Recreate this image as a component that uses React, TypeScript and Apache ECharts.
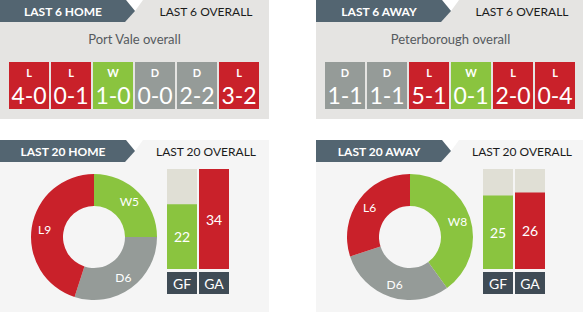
import React, { useEffect, useRef } from 'react';
import * as echarts from 'echarts';

const homeTeam = 'Port Vale';
const awayTeam = 'Peterborough';
const formSlots = ['1', '2', '3', '4', '5', '6'];
const homeFormResults = ['L', 'L', 'W', 'D', 'D', 'L'];
const homeFormScores = ['4-0', '0-1', '1-0', '0-0', '2-2', '3-2'];
const awayFormResults = ['D', 'D', 'L', 'W', 'L', 'L'];
const awayFormScores = ['1-1', '1-1', '5-1', '0-1', '2-0', '0-4'];
const outcomeNames = ['W', 'D', 'L'];
const homeLast20 = [5, 6, 9];
const awayLast20 = [8, 6, 6];
const goalCats = ['GF', 'GA'];
const homeGoals = [22, 34];
const awayGoals = [25, 26];
const goalsMax = 34;

const FONT = 'Lato, "Open Sans", sans-serif';
const COLORS: Record<string, string> = { W: '#8ac43f', D: '#959b98', L: '#c9212a' };
const DARK_TAB = '#536571';

export default function App() {
  const ref = useRef<HTMLDivElement>(null);
  useEffect(() => {
    if (!ref.current) return;
    const chart = echarts.init(ref.current, undefined, { renderer: 'svg' });

    const sides = [
      { x0: 0, tab6: 'LAST 6 HOME', tab20: 'LAST 20 HOME', team: homeTeam, res: homeFormResults, sc: homeFormScores, pie: homeLast20, goals: homeGoals },
      { x0: 316, tab6: 'LAST 6 AWAY', tab20: 'LAST 20 AWAY', team: awayTeam, res: awayFormResults, sc: awayFormScores, pie: awayLast20, goals: awayGoals },
    ];

    const graphic: any[] = [];
    const grid: any[] = [];
    const xAxis: any[] = [];
    const yAxis: any[] = [];
    const series: any[] = [];

    sides.forEach((s) => {
      const x0 = s.x0;
      graphic.push({ type: 'rect', z: -10, shape: { x: x0, y: 0, width: 269, height: 119 }, style: { fill: '#e5e4e2' } });
      graphic.push({ type: 'rect', z: -10, shape: { x: x0, y: 140, width: 269, height: 172 }, style: { fill: '#f5f5f5' } });
      [0, 140].forEach((ty, ti) => {
        graphic.push({ type: 'polygon', z: -5, shape: { points: [[x0 + 126, ty], [x0 + 143, ty], [x0 + 135, ty + 11]] }, style: { fill: '#ffffff' } });
        graphic.push({ type: 'polygon', z: -4, shape: { points: [[x0, ty], [x0 + 126, ty], [x0 + 135, ty + 11], [x0 + 125, ty + 22], [x0, ty + 22]] }, style: { fill: DARK_TAB } });
        graphic.push({ type: 'text', z: 5, x: x0 + 63, y: ty + 11, style: { text: ti === 0 ? s.tab6 : s.tab20, fill: '#ffffff', font: `bold 12px ${FONT}`, align: 'center', verticalAlign: 'middle' } });
        graphic.push({ type: 'text', z: 5, x: x0 + 206, y: ty + 11, style: { text: ti === 0 ? 'LAST 6 OVERALL' : 'LAST 20 OVERALL', fill: '#1b1b1b', font: `12px ${FONT}`, align: 'center', verticalAlign: 'middle' } });
      });
      graphic.push({ type: 'text', z: 5, x: x0 + 134.5, y: 39, style: { text: `${s.team} overall`, fill: '#555a5e', font: `13px ${FONT}`, align: 'center', verticalAlign: 'middle' } });

      // form grid
      const gForm = grid.length;
      grid.push({ left: x0 + 8, top: 62, width: 252, height: 47 });
      xAxis.push({ type: 'category', gridIndex: gForm, data: formSlots, show: false });
      yAxis.push({ type: 'value', gridIndex: gForm, min: 0, max: 1, show: false });
      series.push({
        type: 'bar', xAxisIndex: gForm, yAxisIndex: gForm, barWidth: 40,
        data: s.res.map((r, i) => ({ value: 1, itemStyle: { color: COLORS[r] }, label: { formatter: `{a|${r}}\n{b|${s.sc[i]}}` } })),
        label: {
          show: true, position: 'insideTop', distance: 1, color: '#fff',
          rich: {
            a: { fontSize: 11, fontWeight: 'bold', lineHeight: 18, color: '#fff', fontFamily: FONT, align: 'center' },
            b: { fontSize: 23, lineHeight: 28, color: '#fff', fontFamily: FONT, align: 'center' },
          },
        },
      });

      // last 20 pie
      series.push({
        type: 'pie', center: [x0 + 94, 237], radius: [31, 63], startAngle: 90, clockwise: true,
        label: { show: true, position: 'inside', formatter: '{b}{c}', color: '#fff', fontSize: 12, fontFamily: FONT, textBorderWidth: 0 },
        labelLine: { show: false },
        itemStyle: { borderWidth: 0 },
        data: outcomeNames.map((n, i) => ({ name: n, value: s.pie[i], itemStyle: { color: COLORS[n] } })),
      });

      // goals
      const gGoals = grid.length;
      grid.push({ left: x0 + 166, top: 169, width: 64, height: 100 });
      xAxis.push({
        type: 'category', gridIndex: gGoals, data: goalCats,
        axisLine: { show: false }, axisTick: { show: false },
        axisLabel: {
          interval: 0, margin: 3, formatter: '{a|{value}}',
          rich: { a: { backgroundColor: '#3f4b55', width: 30, height: 22, lineHeight: 22, align: 'center', color: '#fff', fontSize: 14, fontFamily: FONT } },
        },
      });
      yAxis.push({ type: 'value', gridIndex: gGoals, min: 0, max: goalsMax, show: false });
      series.push({
        type: 'bar', xAxisIndex: gGoals, yAxisIndex: gGoals, barWidth: 30,
        showBackground: true, backgroundStyle: { color: '#e0dfd5' },
        data: s.goals.map((v, i) => ({ value: v, itemStyle: { color: i === 0 ? COLORS.W : COLORS.L } })),
        label: { show: true, position: 'inside', color: '#fff', fontSize: 14, fontFamily: FONT },
      });
    });

    chart.setOption({ animation: false, grid, xAxis, yAxis, series, graphic });
    return () => chart.dispose();
  }, []);
  return <div ref={ref} style={{ position: 'fixed', left: 0, top: 0, width: 583, height: 312, background: '#fff' }} />;
}
